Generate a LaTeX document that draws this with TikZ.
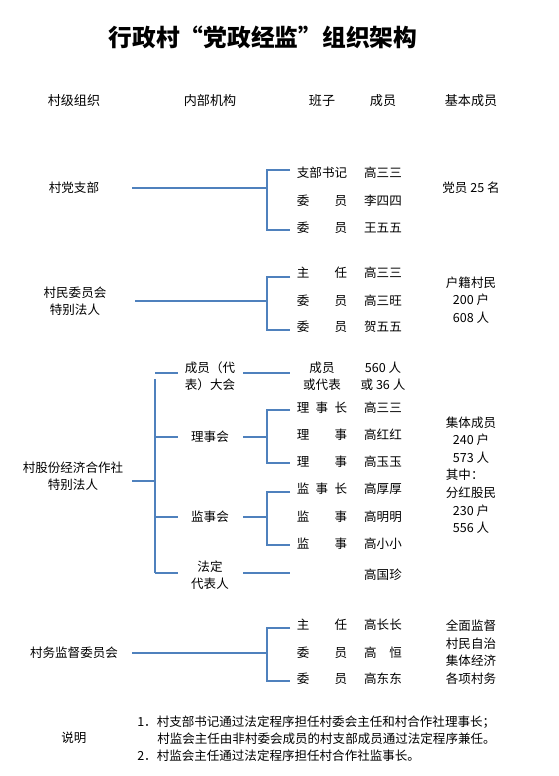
\documentclass[tikz,border=0pt]{standalone}
\usepackage{fontspec}
\setmainfont{Noto Sans CJK SC}
\usetikzlibrary{positioning}
\definecolor{linkblue}{RGB}{79,129,189}
\newcommand\spreadbox[2]{\makebox[#1em][s]{#2}}

\begin{document}
\begin{tikzpicture}[x=0.75pt,y=-0.75pt,
  txt/.style={inner sep=0pt,font=\fontsize{9.4}{12.8}\selectfont,align=center},
  basic/.style={txt,font=\fontsize{9.4}{13.2}\selectfont},
  head/.style={txt,font=\fontsize{9.8}{12}\selectfont},
  link/.style={draw=linkblue,line width=1.6pt}]
\useasboundingbox[fill=white] (0,0) rectangle (558,776);
\node[inner sep=0pt,font=\bfseries\fontsize{17.8}{22}\selectfont] (title) at (263,37) {行政村“党政经监”组织架构};
% column headings
\node[head] (hOrg) at (74,101) {村级组织};
\node[head] (hDept) at (210,101) {内部机构};
\node[head] (hTeam) at (322,101) {班子};
\node[head] (hMem) at (383,101) {成员};
\node[head] (hBase) at (471,101) {基本成员};
\coordinate (roleEdge) at (290,0);

% party branch
\node[txt] (party) at (74,188) {村党支部};
\node[txt] (p1r) at (322,173) {支部书记};
\node[txt] (p2r) at (322,201) {\spreadbox{4}{委\hfill 员}};
\node[txt] (p3r) at (322,228) {\spreadbox{4}{委\hfill 员}};
\node[txt] (p1n) at (383,173) {高三三};
\node[txt] (p2n) at (383,201) {李四四};
\node[txt] (p3n) at (383,228) {王五五};
\node[basic] (pBase) at (471,188) {党员 25 名};
\coordinate (pIn) at (132,188); \coordinate (pMid) at (267,188);
\coordinate (pTop) at (267,170); \coordinate (pBot) at (267,230);
\draw[link] (pIn) -- (pMid);
\draw[link] (roleEdge|-pTop) -- (pTop) -- (pBot) -- (roleEdge|-pBot);

% villagers committee
\node[txt] (vc) at (75,301) {村民委员会\\特别法人};
\node[txt] (v1r) at (322,273) {\spreadbox{4}{主\hfill 任}};
\node[txt] (v2r) at (322,301) {\spreadbox{4}{委\hfill 员}};
\node[txt] (v3r) at (322,327) {\spreadbox{4}{委\hfill 员}};
\node[txt] (v1n) at (383,273) {高三三};
\node[txt] (v2n) at (383,301) {高三旺};
\node[txt] (v3n) at (383,327) {贺五五};
\node[basic] (vBase) at (471,300) {户籍村民\\200 户\\608 人};
\coordinate (vIn) at (135,301); \coordinate (vMid) at (267,301);
\coordinate (vTop) at (267,277); \coordinate (vBot) at (267,330);
\draw[link] (vIn) -- (vMid);
\draw[link] (roleEdge|-vTop) -- (vTop) -- (vBot) -- (roleEdge|-vBot);

% cooperative
\node[txt] (coop) at (73,476) {村股份经济合作社\\特别法人};
\node[txt] (assembly) at (210,376) {成员（代\\表）大会};
\node[txt] (board) at (210,437) {理事会};
\node[txt] (superv) at (210,517) {监事会};
\node[txt] (legal) at (210,575) {法定\\代表人};
\node[txt] (a1r) at (322,376) {成员\\或代表};
\node[txt] (a1n) at (383,376) {560 人\\或 36 人};
\node[txt] (b1r) at (322,408) {\spreadbox{4}{理\hfill 事\hfill 长}};
\node[txt] (b2r) at (322,435) {\spreadbox{4}{理\hfill 事}};
\node[txt] (b3r) at (322,462) {\spreadbox{4}{理\hfill 事}};
\node[txt] (b1n) at (383,408) {高三三};
\node[txt] (b2n) at (383,435) {高红红};
\node[txt] (b3n) at (383,462) {高玉玉};
\node[txt] (s1r) at (322,489) {\spreadbox{4}{监\hfill 事\hfill 长}};
\node[txt] (s2r) at (322,517) {\spreadbox{4}{监\hfill 事}};
\node[txt] (s3r) at (322,544) {\spreadbox{4}{监\hfill 事}};
\node[txt] (s1n) at (383,489) {高厚厚};
\node[txt] (s2n) at (383,517) {高明明};
\node[txt] (s3n) at (383,544) {高小小};
\node[txt] (l1n) at (383,575) {高国珍};
\node[basic] (cBase) at (471,475) {集体成员\\240 户\\573 人\\其中：\hphantom{民}\\分红股民\\230 户\\556 人};
\coordinate (cIn) at (132,481); \coordinate (cSpine) at (155,481);
\coordinate (cTop) at (155,379); \coordinate (cBot) at (155,573);
\coordinate (deptEdge) at (178,0); \coordinate (deptOut) at (243,0);
\draw[link] (cIn) -- (cSpine);
\draw[link] (cTop) -- (cBot);
\draw[link] (155,373) -- (deptEdge|-0,373);
\draw[link] (cSpine|-board) -- (deptEdge|-board);
\draw[link] (cSpine|-superv) -- (deptEdge|-superv);
\draw[link] (cBot) -- (deptEdge|-cBot);
\draw[link] (deptOut|-0,373) -- (roleEdge|-0,373);
\coordinate (bMid) at (267,437); \coordinate (bTop) at (267,410); \coordinate (bBot) at (267,463);
\draw[link] (deptOut|-bMid) -- (bMid);
\draw[link] (roleEdge|-bTop) -- (bTop) -- (bBot) -- (roleEdge|-bBot);
\coordinate (sMid) at (267,517); \coordinate (sTop) at (267,492); \coordinate (sBot) at (267,545);
\draw[link] (deptOut|-sMid) -- (sMid);
\draw[link] (roleEdge|-sTop) -- (sTop) -- (sBot) -- (roleEdge|-sBot);
\draw[link] (deptOut|-cBot) -- (roleEdge|-cBot);

% supervision committee
\node[txt] (audit) at (74,653) {村务监督委员会};
\node[txt] (m1r) at (322,625) {\spreadbox{4}{主\hfill 任}};
\node[txt] (m2r) at (322,653) {\spreadbox{4}{委\hfill 员}};
\node[txt] (m3r) at (322,679) {\spreadbox{4}{委\hfill 员}};
\node[txt] (m1n) at (383,625) {高长长};
\node[txt] (m2n) at (383,653) {\spreadbox{3}{高\hfill 恒}};
\node[txt] (m3n) at (383,679) {高东东};
\node[basic] (mBase) at (471,652) {全面监督\\村民自治\\集体经济\\各项村务};
\coordinate (mIn) at (132,653); \coordinate (mMid) at (267,653);
\coordinate (mTop) at (267,628); \coordinate (mBot) at (267,681);
\draw[link] (mIn) -- (mMid);
\draw[link] (roleEdge|-mTop) -- (mTop) -- (mBot) -- (roleEdge|-mBot);

% notes
\node[txt] (notes) at (74,738) {说明};
\node[txt,anchor=west] (note1) at (137,722) {1．村支部书记通过法定程序担任村委会主任和村合作社理事长；};
\node[txt,anchor=west] (note1b) at (157,739) {村监会主任由非村委会成员的村支部成员通过法定程序兼任。};
\node[txt,anchor=west] (note2) at (137,756) {2．村监会主任通过法定程序担任村合作社监事长。};
\end{tikzpicture}
\end{document}
